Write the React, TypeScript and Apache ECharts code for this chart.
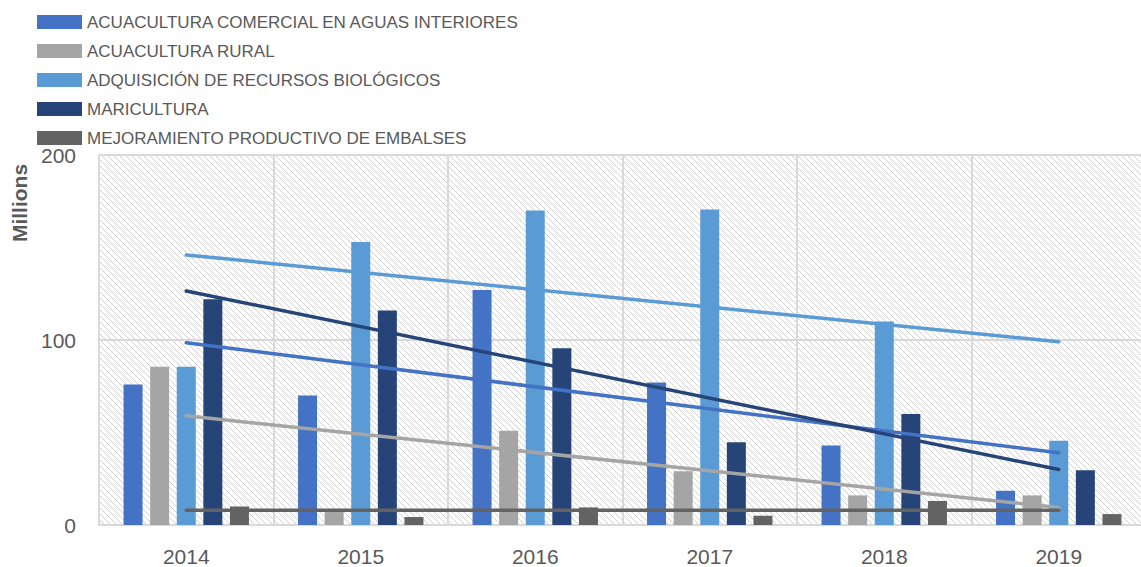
import React, { useEffect, useRef } from "react";
import * as echarts from "echarts";

const categories = ["2014", "2015", "2016", "2017", "2018", "2019"];
const seriesNames = [
  "ACUACULTURA COMERCIAL EN AGUAS INTERIORES",
  "ACUACULTURA RURAL",
  "ADQUISICIÓN DE RECURSOS BIOLÓGICOS",
  "MARICULTURA",
  "MEJORAMIENTO PRODUCTIVO DE EMBALSES",
];
const comercial = [76, 70, 127, 77, 43, 18.5];
const rural = [85.5, 7, 51, 29, 16, 16];
const adquisicion = [85.5, 153, 170, 170.5, 110, 45.5];
const maricultura = [122, 116, 95.5, 44.7, 60, 29.6];
const embalses = [10, 4.3, 9.5, 5, 13, 5.9];
// trendline endpoints (first year, last year)
const trendComercial = [98.5, 39];
const trendRural = [59, 9.5];
const trendAdquisicion = [146, 99];
const trendMaricultura = [126.5, 30];
const trendEmbalses = [8, 8];
const yTicks = { min: 0, max: 200, interval: 100 };

const colors = ["#4472C4", "#A5A5A5", "#5B9BD5", "#264478", "#636363"];

function makePattern() {
  const c = document.createElement("canvas");
  c.width = 6;
  c.height = 6;
  const ctx = c.getContext("2d")!;
  ctx.fillStyle = "#ffffff";
  ctx.fillRect(0, 0, 6, 6);
  ctx.fillStyle = "#d2d2d2";
  for (let i = 0; i < 6; i++) ctx.fillRect(i, i, 1, 1);
  return c;
}

function trendData(ends: number[]) {
  const arr: (number | null)[] = categories.map(() => null);
  arr[0] = ends[0];
  arr[arr.length - 1] = ends[1];
  return arr;
}

export default function App() {
  const ref = useRef<HTMLDivElement>(null);
  useEffect(() => {
    document.body.style.margin = "0";
    document.body.style.overflow = "hidden";
    document.documentElement.style.overflow = "hidden";
    const chart = echarts.init(ref.current!, null, { renderer: "svg" });
    const barValues = [comercial, rural, adquisicion, maricultura, embalses];
    const trends = [trendComercial, trendRural, trendAdquisicion, trendMaricultura, trendEmbalses];
    const font = "'Liberation Sans', Arial, sans-serif";
    chart.setOption({
      animation: false,
      textStyle: { fontFamily: font },
      legend: {
        data: seriesNames,
        orient: "vertical",
        left: 32,
        top: 7,
        itemWidth: 45,
        itemHeight: 14,
        itemGap: 9,
        icon: "rect",
        textStyle: {
          fontFamily: font,
          fontSize: 17,
          lineHeight: 20,
          color: "#595959",
        },
      },
      grid: {
        left: 99,
        top: 155,
        width: 1047,
        height: 370,
        show: true,
        borderWidth: 0,
        backgroundColor: { image: makePattern(), repeat: "repeat" },
      },
      graphic: [
        {
          type: "text",
          x: 19,
          y: 203,
          rotation: Math.PI / 2,
          style: {
            text: "Millions",
            font: "bold 21px 'Liberation Sans', Arial, sans-serif",
            fill: "#595959",
            align: "center",
            verticalAlign: "middle",
          },
        },
      ],
      xAxis: {
        type: "category",
        data: categories,
        axisLine: { lineStyle: { color: "#d9d9d9", width: 2 } },
        axisTick: { show: false },
        axisLabel: { color: "#595959", fontSize: 21, margin: 21 },
        splitLine: { show: true, lineStyle: { color: "#d9d9d9", width: 2 } },
      },
      yAxis: {
        type: "value",
        min: yTicks.min,
        max: yTicks.max,
        interval: yTicks.interval,
        axisLine: { show: false },
        axisTick: { show: false },
        axisLabel: { color: "#595959", fontSize: 21, margin: 23 },
        splitLine: { show: true, lineStyle: { color: "#d9d9d9", width: 2 } },
      },
      series: [
        ...barValues.map((vals, i) => ({
          name: seriesNames[i],
          type: "bar",
          data: vals,
          barWidth: 19,
          barGap: "40%",
          itemStyle: { color: colors[i] },
          z: 2,
        })),
        ...trends.map((t, i) => ({
          name: "trend" + i,
          type: "line",
          data: trendData(t),
          connectNulls: true,
          showSymbol: false,
          symbol: "none",
          lineStyle: { color: colors[i], width: 3.5, cap: "round" },
          z: 5,
        })),
      ],
    });
    return () => chart.dispose();
  }, []);
  return <div ref={ref} style={{ width: 1160, height: 567 }} />;
}
